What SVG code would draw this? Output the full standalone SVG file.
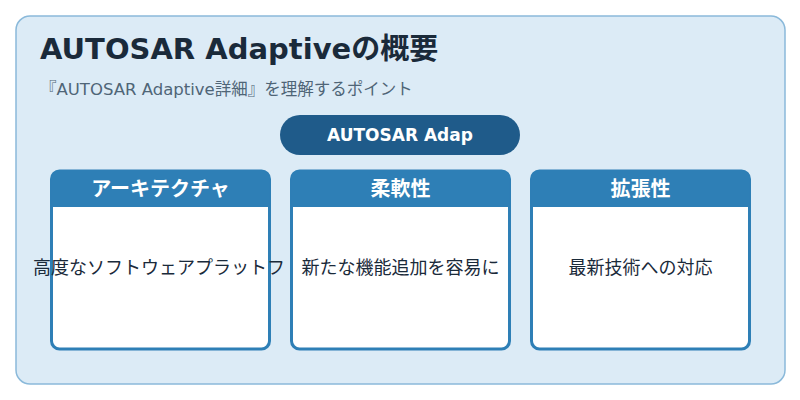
<svg xmlns="http://www.w3.org/2000/svg" width="800" height="400" viewBox="0 0 800 400">
<style>
text{font-family:"DejaVu Sans","Noto Sans CJK JP",sans-serif}
.card{fill:#fff;stroke:#2e7fb6;stroke-width:3}
.hdr{fill:#2e7fb6}
.ht{fill:#fff;font-size:20px;font-weight:bold;text-anchor:middle}
.bt{fill:#1a2a3a;font-size:18px;text-anchor:middle}
</style>
<rect width="800" height="400" fill="#ffffff"/>
<rect x="16" y="16" width="769" height="368" rx="14" fill="#dcebf6" stroke="#8ab9da" stroke-width="1.5"/>
<text x="40" y="59" font-size="29" font-weight="bold" fill="#1a2a3a">AUTOSAR Adaptiveの概要</text>
<text x="40" y="95" font-size="16.5" fill="#4f6577">『AUTOSAR Adaptive詳細』を理解するポイント</text>
<g id="center"><rect x="280" y="115" width="240" height="40" rx="20" fill="#1f5b8a"/><text x="400" y="141" font-size="17" font-weight="bold" fill="#fff" text-anchor="middle">AUTOSAR Adap</text></g>
<g id="card1"><rect class="card" x="51.5" y="171" width="218" height="178" rx="8"/><path class="hdr" d="M51.5,207 V179 a8,8 0 0 1 8,-8 H261.5 a8,8 0 0 1 8,8 V207 Z"/><text class="ht" x="160.5" y="196">アーキテクチャ</text><text class="bt" x="159" y="274">高度なソフトウェアプラットフ</text></g>
<g id="card2"><rect class="card" x="291.5" y="171" width="218" height="178" rx="8"/><path class="hdr" d="M291.5,207 V179 a8,8 0 0 1 8,-8 H501.5 a8,8 0 0 1 8,8 V207 Z"/><text class="ht" x="400.5" y="196">柔軟性</text><text class="bt" x="400.5" y="274">新たな機能追加を容易に</text></g>
<g id="card3"><rect class="card" x="531.5" y="171" width="218" height="178" rx="8"/><path class="hdr" d="M531.5,207 V179 a8,8 0 0 1 8,-8 H741.5 a8,8 0 0 1 8,8 V207 Z"/><text class="ht" x="640.5" y="196">拡張性</text><text class="bt" x="640.5" y="274">最新技術への対応</text></g>
<g id="connectors"></g>
</svg>
